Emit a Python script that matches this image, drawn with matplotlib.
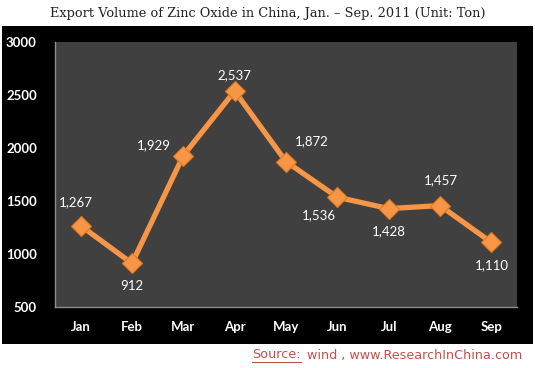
import matplotlib
matplotlib.use("Agg")
import matplotlib.pyplot as plt
from matplotlib.patches import Rectangle
from matplotlib.lines import Line2D

# data
months = ["Jan", "Feb", "Mar", "Apr", "May", "Jun", "Jul", "Aug", "Sep"]
volume = [1267, 912, 1929, 2537, 1872, 1536, 1428, 1457, 1110]
# label offsets in points (dx, dy) relative to each marker
label_offsets = [(-3.5, 17), (0, -16.5), (-21.5, 7.5), (0, 11.5), (18.5, 15),
                 (-13.5, -13), (0, -16.5), (0.5, 18), (0.5, -16.5)]
yticks = [500, 1000, 1500, 2000, 2500, 3000]

ORANGE = "#f79646"
W, H = 535, 368

fig = plt.figure(figsize=(W / 100, H / 100), dpi=100, facecolor="white")

# black panel behind the chart
fig.patches.append(Rectangle((2 / W, (H - 344) / H), 531 / W, 318 / H,
                             transform=fig.transFigure, facecolor="black",
                             edgecolor="none", zorder=-5))

ax = fig.add_axes([55 / W, (H - 307) / H, 462 / W, 265 / H])
ax.set_facecolor("#404040")

x = list(range(len(months)))
ax.plot(x, volume, color=ORANGE, lw=3.8, marker="D", ms=10.5,
        markerfacecolor=ORANGE, markeredgecolor="#e07820", mew=0.8,
        solid_joinstyle="round", zorder=3)

for xi, v, (dx, dy) in zip(x, volume, label_offsets):
    ax.annotate(f"{v:,}", (xi, v), xytext=(dx, dy), textcoords="offset points",
                ha="center", va="center", color="white", fontsize=9.5,
                family="Lato")

ax.set_xlim(-0.5, len(months) - 0.5)
ax.set_ylim(500, 3000)
ax.set_xticks(x)
ax.set_xticklabels(months)
ax.set_yticks(yticks)
ax.tick_params(length=0, colors="white", labelsize=9.5)
ax.tick_params(axis="y", pad=13)
ax.tick_params(axis="x", pad=10)
for lab in ax.get_xticklabels() + ax.get_yticklabels():
    lab.set_family("Lato")
    lab.set_fontweight("bold")
for side in ["top", "right"]:
    ax.spines[side].set_visible(False)
for side in ["left", "bottom"]:
    ax.spines[side].set_color("#8c8c8c")
    ax.spines[side].set_linewidth(1)

fig.text(268 / W, (H - 13) / H, "Export Volume of Zinc Oxide in China, Jan. \u2013 Sep. 2011 (Unit: Ton)",
         ha="center", va="center", fontsize=9.3, family="DejaVu Serif",
         color="#222222")

# source line with underlined "Source:"
src_col = "#c0504d"
t1 = fig.text(252 / W, (H - 355) / H, "Source:", ha="left", va="center",
              fontsize=9.2, family="DejaVu Sans", color=src_col)
fig.canvas.draw()
bb = t1.get_window_extent().transformed(fig.transFigure.inverted())
fig.lines.append(Line2D([bb.x0, bb.x1], [bb.y0 - 0.002, bb.y0 - 0.002],
                        transform=fig.transFigure, color=src_col, lw=0.8))
fig.text(bb.x1 + 6 / W, (H - 355) / H, "wind , www.ResearchInChina.com",
         ha="left", va="center", fontsize=9.2, family="DejaVu Sans",
         color=src_col)

fig.savefig("out.png", dpi=100, facecolor="white")
